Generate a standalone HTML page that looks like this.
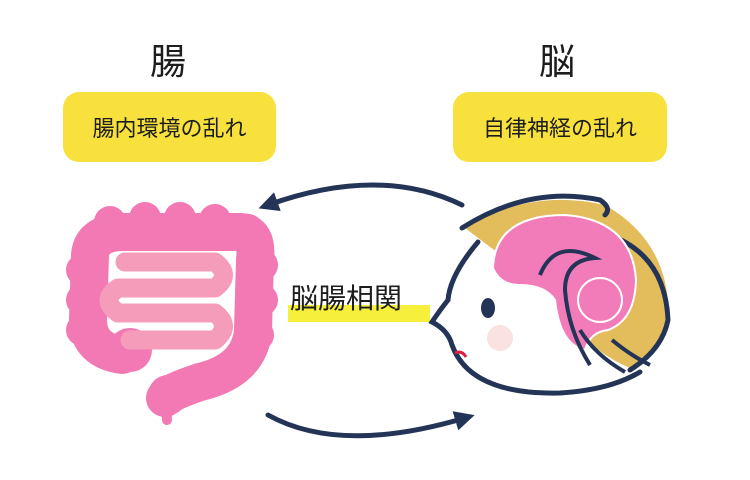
<!DOCTYPE html>
<html><head><meta charset="utf-8"><style>
html,body{margin:0;padding:0;background:#fff;}
body{width:750px;height:480px;position:relative;overflow:hidden;font-family:"Liberation Sans","Noto Sans CJK JP",sans-serif;}
.t{position:absolute;color:#1d1d1d;line-height:1;}
.box{position:absolute;background:#f8e13c;border-radius:16px;display:flex;align-items:center;justify-content:center;font-size:22px;color:#1d1d1d;}
</style></head><body>
<svg width="750" height="480" style="position:absolute;left:0;top:0">
<defs><marker id="ah" markerWidth="4" markerHeight="4" refX="2" refY="2" orient="auto" markerUnits="strokeWidth"><path d="M0,0 L4,2 L0,4 Z" fill="#233457"/></marker></defs>
<path d="M462,205 Q380,165 268,205" stroke="#233457" stroke-width="5" fill="none" stroke-linecap="round" marker-end="url(#ah)"/>
<path d="M268,415 Q340,455 465,418" stroke="#233457" stroke-width="5" fill="none" stroke-linecap="round" marker-end="url(#ah)"/>
<rect x="288" y="305" width="142" height="17" fill="#f6f03c"/>
<!-- intestine -->
<g stroke="#f279b4" fill="none" stroke-linecap="round" stroke-linejoin="round">
<path d="M122,355 Q88,350 88,320 L90,255 Q92,232 125,232 L240,232 Q258,232 255,260 L253,330 Q250,370 200,382 Q170,392 165,398" stroke-width="38"/>
<path d="M166,400 L167,420" stroke-width="10"/>
</g>
<g fill="#f279b4">
<circle cx="130" cy="350" r="22"/><circle cx="168" cy="395" r="20"/>
<circle cx="82" cy="270" r="16"/><circle cx="82" cy="300" r="16"/><circle cx="82" cy="330" r="16"/>
<circle cx="110" cy="222" r="16"/><circle cx="145" cy="218" r="16"/><circle cx="180" cy="218" r="16"/><circle cx="215" cy="220" r="16"/><circle cx="248" cy="230" r="16"/>
<circle cx="262" cy="265" r="16"/><circle cx="262" cy="300" r="16"/><circle cx="258" cy="335" r="16"/><circle cx="232" cy="368" r="16"/><circle cx="200" cy="383" r="16"/>
</g>
<path d="M125,262 L215,262 Q232,275 215,288 L118,288 Q100,300 118,313 L215,313 Q232,326 215,340 L130,340" stroke="#f49cba" stroke-width="19" fill="none" stroke-linecap="round" stroke-linejoin="round"/>
<!-- head -->
<path d="M465,228 Q530,188 605,205 Q675,245 668,330 Q650,370 610,378 L560,300 Z" fill="#e3bd5c"/>
<path d="M478,245 Q448,275 448,300 L432,322 Q450,330 452,345 Q470,392 560,392 Q610,390 640,372 Q580,350 560,300 Q540,270 478,245 Z" fill="#fff"/>
<path d="M478,242 Q450,275 448,300 Q440,310 432,322 Q448,330 452,345 Q470,395 560,393 Q610,390 640,372" stroke="#233457" stroke-width="5" fill="none" stroke-linecap="round"/>
<path d="M462,228 Q530,185 600,200 Q612,208 605,215" stroke="#233457" stroke-width="5" fill="none" stroke-linecap="round"/>
<path d="M600,232 Q665,250 668,320 Q662,350 630,370" stroke="#233457" stroke-width="5" fill="none" stroke-linecap="round"/>
<path d="M493,268 Q495,215 565,215 Q632,220 636,280 Q635,320 608,330 Q590,332 585,350 Q560,345 555,300 Q545,285 520,285 Q500,285 493,268 Z" fill="#f27cb9" stroke="#fff" stroke-width="2"/>
<circle cx="600" cy="300" r="22" fill="#f27cb9" stroke="#fff" stroke-width="2"/>
<path d="M540,275 Q555,238 595,258 Q565,260 565,290 Q568,330 590,365" stroke="#233457" stroke-width="4" fill="none"/>
<path d="M580,330 Q595,355 625,372 M612,340 Q630,355 650,365" stroke="#233457" stroke-width="4" fill="none"/>
<ellipse cx="488" cy="308" rx="7" ry="10" fill="#233457"/>
<circle cx="500" cy="338" r="13" fill="#f8d6d6" opacity="0.7"/>
<path d="M455,353 Q462,350 466,357" stroke="#e02040" stroke-width="3" fill="none"/>
</svg>
<div class="t" style="left:150px;top:44px;font-size:36px;">腸</div>
<div class="t" style="left:539px;top:44px;font-size:36px;">脳</div>
<div class="box" style="left:63px;top:92px;width:213px;height:70px;">腸内環境の乱れ</div>
<div class="box" style="left:453px;top:92px;width:214px;height:70px;">自律神経の乱れ</div>
<div class="t" style="left:290px;top:285px;font-size:28px;">脳腸相関</div>
</body></html>
